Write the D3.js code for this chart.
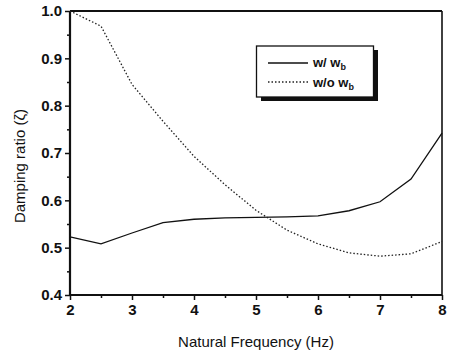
<!DOCTYPE html>
<html><head><meta charset="utf-8">
<script src="https://cdn.jsdelivr.net/npm/d3@7"></script>
<style>body{margin:0;background:#fff}svg{display:block}text{font-family:"Liberation Sans",Arial,sans-serif;fill:#111}</style>
</head><body><svg id="c" width="449" height="355"></svg>
<script>
const freq = [2, 2.5, 3, 3.5, 4, 4.5, 5, 5.5, 6, 6.5, 7, 7.5, 8];
const withWb = [0.523, 0.508, 0.531, 0.553, 0.560, 0.563, 0.564, 0.565, 0.567, 0.578, 0.597, 0.645, 0.742];
const withoutWb = [1.0, 0.968, 0.845, 0.767, 0.693, 0.633, 0.579, 0.537, 0.508, 0.489, 0.482, 0.487, 0.513];
const xTicks = [2, 3, 4, 5, 6, 7, 8];
const yTicks = [0.4, 0.5, 0.6, 0.7, 0.8, 0.9, 1.0];
const seriesNames = ["w/ w", "w/o w"];

const svg = d3.select("#c");
const L = 70, R = 442, T = 11, B = 295;
const x = d3.scaleLinear().domain([2, 8]).range([L, R]);
const y = d3.scaleLinear().domain([0.4, 1.0]).range([B, T]);

// minor ticks
const xMinor = d3.range(2.5, 8, 1);
const yMinor = d3.range(0.45, 1.0, 0.1);
svg.append("g").attr("transform", `translate(0,${B})`)
  .call(d3.axisBottom(x).tickValues(xMinor).tickSize(3).tickFormat(""))
  .call(g => g.select(".domain").remove())
  .selectAll("line").attr("stroke", "#111").attr("stroke-width", 1.5);
svg.append("g").attr("transform", `translate(${L},0)`)
  .call(d3.axisLeft(y).tickValues(yMinor).tickSize(3).tickFormat(""))
  .call(g => g.select(".domain").remove())
  .selectAll("line").attr("stroke", "#111").attr("stroke-width", 1.5);

const xa = svg.append("g").attr("transform", `translate(0,${B})`)
  .call(d3.axisBottom(x).tickValues(xTicks).tickSize(5).tickPadding(4).tickFormat(d3.format("d")));
xa.select(".domain").remove();
xa.selectAll("line").attr("stroke", "#111").attr("stroke-width", 1.5);
xa.selectAll("text").attr("font-size", 15).attr("font-weight", "bold").style("font-family", "Liberation Sans, Arial, sans-serif").attr("fill", "#111");

const ya = svg.append("g").attr("transform", `translate(${L},0)`)
  .call(d3.axisLeft(y).tickValues(yTicks).tickSize(5).tickPadding(3).tickFormat(d3.format(".1f")));
ya.select(".domain").remove();
ya.selectAll("line").attr("stroke", "#111").attr("stroke-width", 1.5);
ya.selectAll("text").attr("font-size", 15).attr("font-weight", "bold").style("font-family", "Liberation Sans, Arial, sans-serif").attr("fill", "#111");

// frame
svg.append("line").attr("x1", L).attr("x2", R).attr("y1", B).attr("y2", B).attr("stroke", "#111").attr("stroke-width", 2.2);
svg.append("line").attr("x1", L).attr("x2", L).attr("y1", T).attr("y2", B).attr("stroke", "#111").attr("stroke-width", 2.2);
svg.append("line").attr("x1", L).attr("x2", R).attr("y1", T).attr("y2", T).attr("stroke", "#111").attr("stroke-width", 2);
svg.append("line").attr("x1", R).attr("x2", R).attr("y1", T).attr("y2", B).attr("stroke", "#111").attr("stroke-width", 1.6);

const line = d3.line().x((d, i) => x(freq[i])).y(d => y(d));
svg.append("path").attr("d", line(withWb)).attr("fill", "none").attr("stroke", "#111").attr("stroke-width", 1.3);
svg.append("path").attr("d", line(withoutWb)).attr("fill", "none").attr("stroke", "#222").attr("stroke-width", 1.3).attr("stroke-dasharray", "1.5,2");

// legend
const lg = svg.append("g");
lg.append("rect").attr("x", 261).attr("y", 50).attr("width", 117).attr("height", 51).attr("fill", "#111");
lg.append("rect").attr("x", 256.5).attr("y", 46).attr("width", 117).attr("height", 51).attr("fill", "#fff").attr("stroke", "#111").attr("stroke-width", 1.3);
lg.append("line").attr("x1", 268).attr("x2", 308).attr("y1", 63).attr("y2", 63).attr("stroke", "#111").attr("stroke-width", 1.3);
lg.append("line").attr("x1", 268).attr("x2", 308).attr("y1", 82).attr("y2", 82).attr("stroke", "#222").attr("stroke-width", 1.3).attr("stroke-dasharray", "1.5,2");
[[seriesNames[0], 67], [seriesNames[1], 87]].forEach(([s, by]) => {
  const t = lg.append("text").attr("x", 313).attr("y", by).attr("font-size", 13).attr("font-weight", "bold");
  t.append("tspan").text(s);
  t.append("tspan").attr("font-size", 9).attr("dy", 3).text("b");
});

svg.append("text").attr("x", 256).attr("y", 347).attr("text-anchor", "middle").attr("font-size", 15).text("Natural Frequency (Hz)");
svg.append("text").attr("transform", "translate(25,166) rotate(-90)").attr("text-anchor", "middle").attr("font-size", 15).text("Damping ratio (ζ)");
</script></body></html>
